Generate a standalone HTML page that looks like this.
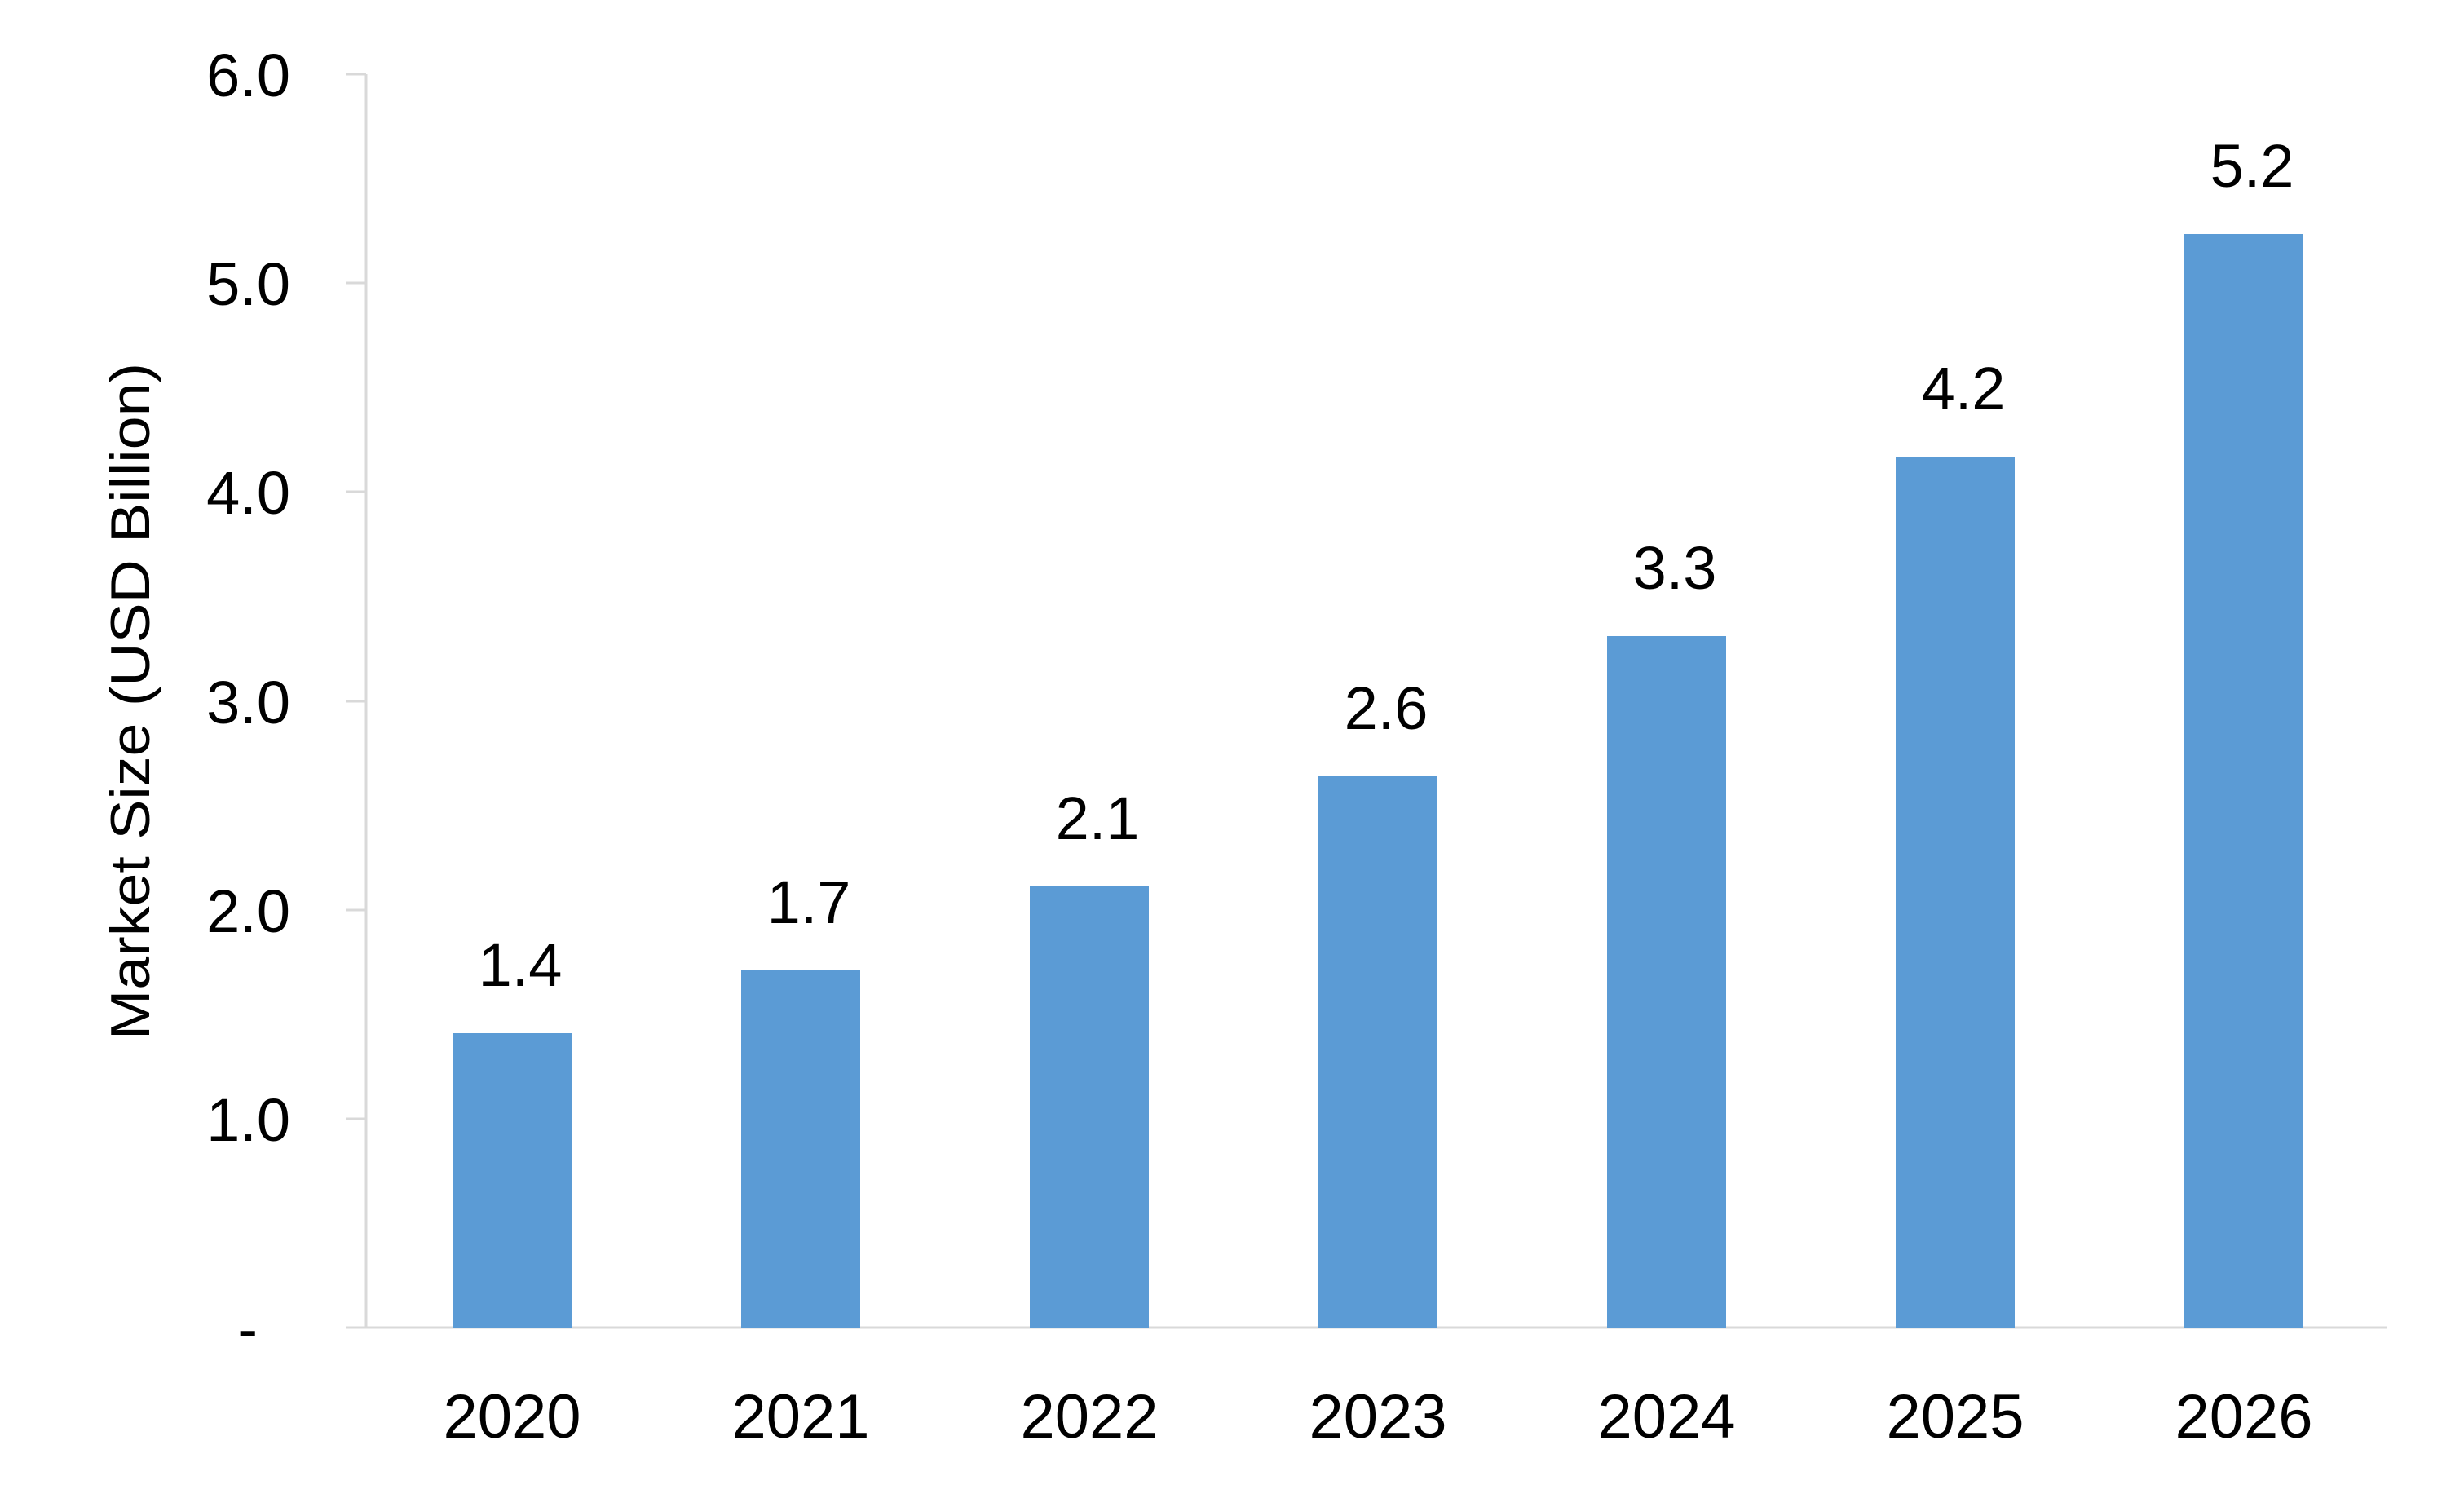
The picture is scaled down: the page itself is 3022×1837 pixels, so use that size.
<!DOCTYPE html>
<html><head><meta charset="utf-8"><style>body{margin:0;background:#fff}svg{display:block}</style></head>
<body>
<svg width="3022" height="1837" xmlns="http://www.w3.org/2000/svg" font-family="Liberation Sans, sans-serif">
<rect width="3022" height="1837" fill="#fff"/>
<g stroke="#d9d9d9" stroke-width="3">
<line x1="449" y1="91" x2="449" y2="1628"/>
<line x1="424" y1="1628" x2="2927" y2="1628"/>
<line x1="424" y1="91" x2="449" y2="91"/>
<line x1="424" y1="347" x2="449" y2="347"/>
<line x1="424" y1="603" x2="449" y2="603"/>
<line x1="424" y1="860" x2="449" y2="860"/>
<line x1="424" y1="1116" x2="449" y2="1116"/>
<line x1="424" y1="1372" x2="449" y2="1372"/>
</g>
<g font-size="74" text-anchor="end" fill="#000">
<text x="356" y="118">6.0</text>
<text x="356" y="374">5.0</text>
<text x="356" y="630">4.0</text>
<text x="356" y="887">3.0</text>
<text x="356" y="1143">2.0</text>
<text x="356" y="1399">1.0</text>
<text x="316" y="1655">-</text>
</g>
<text transform="translate(183,860) rotate(-90)" font-size="68" text-anchor="middle" textLength="830" lengthAdjust="spacingAndGlyphs">Market Size (USD Billion)</text>
<g fill="#5b9bd5">
<rect x="555" y="1267" width="146" height="361"/>
<rect x="909" y="1190" width="146" height="438"/>
<rect x="1263" y="1087" width="146" height="541"/>
<rect x="1617" y="952" width="146" height="676"/>
<rect x="1971" y="780" width="146" height="848"/>
<rect x="2325" y="560" width="146" height="1068"/>
<rect x="2679" y="287" width="146" height="1341"/>
</g>
<g font-size="74" text-anchor="middle" fill="#000">
<text x="638" y="1209">1.4</text>
<text x="992" y="1132">1.7</text>
<text x="1346" y="1029">2.1</text>
<text x="1700" y="894">2.6</text>
<text x="2054" y="722">3.3</text>
<text x="2408" y="502">4.2</text>
<text x="2762" y="229">5.2</text>
</g>
<g font-size="76" text-anchor="middle" fill="#000">
<text x="628" y="1763">2020</text>
<text x="982" y="1763">2021</text>
<text x="1336" y="1763">2022</text>
<text x="1690" y="1763">2023</text>
<text x="2044" y="1763">2024</text>
<text x="2398" y="1763">2025</text>
<text x="2752" y="1763">2026</text>
</g>
</svg>
</body></html>
